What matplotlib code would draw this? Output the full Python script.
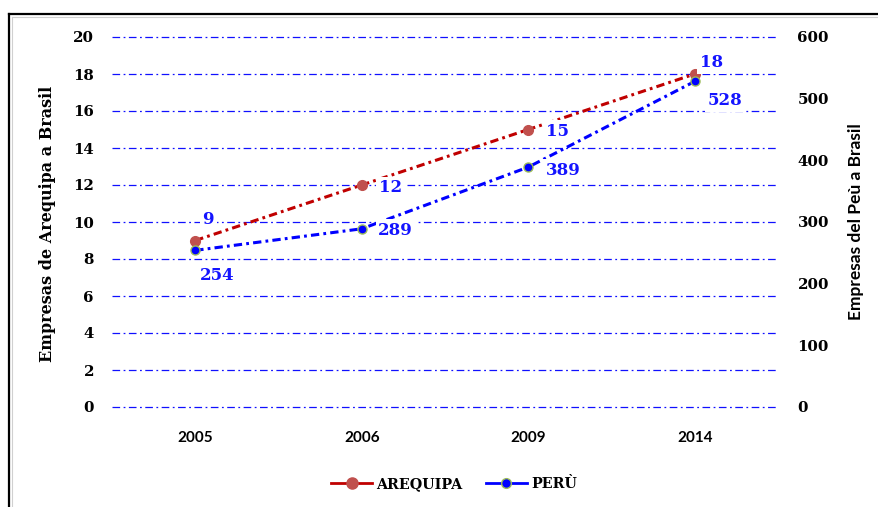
import matplotlib
matplotlib.use("Agg")
import matplotlib.pyplot as plt
from matplotlib.lines import Line2D

# data
years = ["2005", "2006", "2009", "2014"]
arequipa = [9, 12, 15, 18]
peru = [254, 289, 389, 528]

# label offsets in pixels (dx, dy up)
areq_off = [(13, 21), (29, -3), (29, -2), (17, 11)]
peru_off = [(22, -25), (34, -2), (35, -3), (30, -19)]

plt.rcParams['lines.scale_dashes'] = False
SERIF = 'DejaVu Serif'
SANS = 'Lato'

fig = plt.figure(figsize=(8.79, 5.07), dpi=100)
W, H = 879, 507
ax = fig.add_axes([112 / W, 1 - 407 / H, 666 / W, 370 / H])
ax2 = ax.twinx()

x = list(range(len(years)))
ax.set_xlim(-0.5, len(years) - 0.5)
ax.set_ylim(0, 20)
ax2.set_ylim(0, 600)
ax.set_yticks(range(0, 21, 2))
ax2.set_yticks(range(0, 601, 100))
ax.set_xticks(x)
ax.set_xticklabels(years, fontfamily=SANS, fontweight='bold', fontsize=11)

for a in (ax, ax2):
    for s in a.spines.values():
        s.set_visible(False)
    a.tick_params(length=0)
ax.tick_params(axis='y', pad=13)
ax.tick_params(axis='x', pad=17)
ax2.tick_params(axis='y', pad=14)
for lab in ax.get_yticklabels() + ax2.get_yticklabels():
    lab.set_fontfamily(SERIF)
    lab.set_fontweight('bold')
    lab.set_fontsize(10.8)

# grid
gls = (0, (5.5, 2.5, 1.3, 2.5))
for v in range(0, 21, 2):
    ax.axhline(v, color='#1010FF', lw=0.9, ls=gls, zorder=1, clip_on=False)

lls = (0, (6, 3, 2, 3))
ax.plot(x, arequipa, color='#C00000', lw=2.2, ls=lls, marker='o', ms=7,
        mfc='#C0504D', mec='#C0504D', zorder=3)
ax2.plot(x, peru, color='#0000FF', lw=2.2, ls=lls, marker='o', ms=6.5,
         mfc='#0000FF', mec='#9BBB59', mew=1, zorder=3)

lblue = '#1414FF'
for i in x:
    dx, dy = areq_off[i]
    ax2.annotate(str(arequipa[i]), (i, arequipa[i]), xycoords=ax.transData,
                 xytext=(dx * 0.72, dy * 0.72), textcoords='offset points',
                 ha='center', va='center', color=lblue, fontfamily=SERIF,
                 fontweight='bold', fontsize=12,
                 bbox=dict(facecolor='white', edgecolor='none', pad=2),
                 zorder=5)
    dx, dy = peru_off[i]
    ax2.annotate(str(peru[i]), (i, peru[i]), xycoords=ax2.transData,
                 xytext=(dx * 0.72, dy * 0.72), textcoords='offset points',
                 ha='center', va='center', color=lblue, fontfamily=SERIF,
                 fontweight='bold', fontsize=12,
                 bbox=dict(facecolor='white', edgecolor='none', pad=2),
                 zorder=5)

fig.text(48 / W, 1 - 224 / H, 'Empresas de Arequipa a Brasil', rotation=90,
         ha='center', va='center', fontfamily=SERIF, fontweight='bold',
         fontsize=11.5)
fig.text(856 / W, 1 - 222 / H, 'Empresas del Peù a Brasil', rotation=90,
         ha='center', va='center', fontfamily=SANS, fontweight='bold',
         fontsize=12.5)

handles = [
    Line2D([], [], color='#C00000', lw=2, marker='o', ms=8,
           mfc='#C0504D', mec='#C0504D'),
    Line2D([], [], color='#0000FF', lw=2, marker='o', ms=7,
           mfc='#0000FF', mec='#9BBB59'),
]
fig.legend(handles, ['AREQUIPA', 'PERÙ'], loc='center',
           bbox_to_anchor=(454 / W, 1 - 484 / H), ncol=2, frameon=False,
           prop=dict(family=SERIF, weight='bold', size=10.3),
           handlelength=2.9, handletextpad=0.3, columnspacing=1.6)

# outer frame (left and top edges)
fig.add_artist(Line2D([9 / W, 9 / W], [0, 1 - 14 / H], color='black', lw=1.6,
                      transform=fig.transFigure))
fig.add_artist(Line2D([9 / W, 1], [1 - 14 / H, 1 - 14 / H], color='black',
                      lw=1.6, transform=fig.transFigure))
fig.add_artist(Line2D([12 / W, 12 / W], [0, 1 - 17 / H], color='#d0d0d0',
                      lw=0.8, transform=fig.transFigure))
fig.add_artist(Line2D([12 / W, 1], [1 - 17 / H, 1 - 17 / H], color='#d0d0d0',
                      lw=0.8, transform=fig.transFigure))

fig.savefig('out.png', dpi=100, facecolor='white')
